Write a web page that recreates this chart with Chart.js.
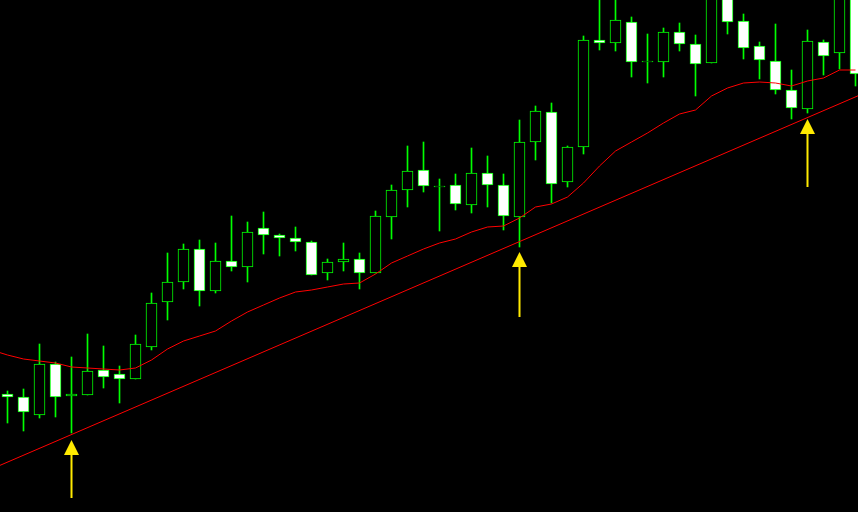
<!DOCTYPE html>
<html>
<head>
<meta charset="utf-8">
<title>Candles</title>
<script src="https://cdn.jsdelivr.net/npm/chart.js@4.4.1/dist/chart.umd.min.js"></script>
<style>
  html, body { margin: 0; padding: 0; background: #000; }
  #wrap { width: 858px; height: 512px; }
</style>
</head>
<body>
<div id="wrap"><canvas id="candles" width="858" height="512"></canvas></div>
<script>
  // price data, one entry per bar
  const open_prices  = [118,115, 97,148,116,117,142,138,133,165,210,230,263,221,251,245,284,277,274,270,
                        239,250,253,239,295,322,342,325,327,307,339,327,295,370,400,330,365,472,469,490,
                        450,450,480,468,449,525,491,466,451,422,403,470,459,525];
  const high_prices  = [121,123,168,150,155,178,166,146,177,219,259,268,272,269,296,290,300,278,285,271,
                        253,269,259,301,327,366,370,333,338,364,356,338,392,406,409,366,476,520,520,495,
                        478,484,489,477,540,535,498,470,488,442,482,472,535,535];
  const low_prices   = [ 89, 81, 94, 95, 79,117,124,109,133,162,192,223,206,219,241,230,258,256,261,237,
                        232,241,223,239,273,305,320,281,302,299,305,282,265,352,309,325,358,462,461,435,
                        429,435,461,416,449,478,453,433,418,393,399,437,443,426];
  const close_prices = [115,100,148,115,118,141,135,133,168,209,230,263,221,251,245,280,277,274,270,237,
                        250,253,239,296,322,341,326,326,308,339,327,296,370,401,328,365,472,469,492,450,
                        451,480,468,448,530,490,464,452,422,404,471,456,525,438];

  // moving average, starts one bar before the first candle
  const ma_start = -1;
  const ma_values = [162,157,153,151,149,145,144,143,142,144,152,163,171,176,181,191,200,207,214,220,
                     222,225,228,229,238,249,256,263,269,273,280,285,286,294,305,308,315,329,346,361,
                     370,379,389,398,402,416,424,429,430,429,426,431,434,442,442];

  // trend line anchors (bar index, price)
  const trend_idx = [-1, 54];
  const trend_val = [43, 422];

  // arrows under the touches
  const arrow_idx  = [4, 32, 50];
  const arrow_tip  = [72, 260, 393];
  const arrow_tail = [14, 195, 325];

  var body_data = open_prices.map(function(o, i){ return {x: i, y: [o, close_prices[i]]}; });
  var wick_data = low_prices.map(function(l, i){ return {x: i, y: [l, high_prices[i]]}; });
  var ma_data = ma_values.map(function(v, i){ return {x: i + ma_start, y: v}; });
  var trend_data = trend_idx.map(function(k, i){ return {x: k, y: trend_val[i]}; });

  var green = "#00ff00";

  const arrows = {
    id: "arrows",
    afterDatasetsDraw: function(chart){
      var ctx = chart.ctx;
      var xs = chart.scales.x, ys = chart.scales.y;
      ctx.save();
      ctx.fillStyle = "#ffea00";
      for (var i = 0; i < arrow_idx.length; i++) {
        var x = xs.getPixelForValue(arrow_idx[i]);
        var tip = ys.getPixelForValue(arrow_tip[i]);
        var tail = ys.getPixelForValue(arrow_tail[i]);
        ctx.fillRect(x - 1, tip + 14, 2, tail - tip - 14);
        ctx.beginPath();
        ctx.moveTo(x, tip);
        ctx.lineTo(x + 7.5, tip + 15);
        ctx.lineTo(x - 7.5, tip + 15);
        ctx.closePath();
        ctx.fill();
      }
      ctx.restore();
    }
  };

  //options
  var options = {
    responsive: false,
    animation: false,
    devicePixelRatio: 1,
    layout: { padding: 0 },
    plugins: { legend: { display: false }, tooltip: { enabled: false } },
    scales: {
      x: { type: "linear", display: false, offset: false, min: -0.46875, max: 53.15625 },
      y: { display: false, min: 0, max: 512 }
    }
  };

  new Chart(document.getElementById("candles"), {
    type: "bar",
    data: {
      datasets: [{
        label: "bodies",
        data: body_data,
        grouped: false,
        order: 1,
        barThickness: 11,
        borderWidth: 1,
        borderSkipped: false,
        borderColor: green,
        backgroundColor: function(c){
          var i = c.dataIndex;
          return close_prices[i] >= open_prices[i] ? "#000000" : "#ffffff";
        }
      }, {
        label: "wicks",
        data: wick_data,
        grouped: false,
        order: 2,
        barThickness: 1,
        borderWidth: 0,
        backgroundColor: green
      }, {
        type: "line",
        label: "MA",
        data: ma_data,
        order: 0,
        borderColor: "#ff0000",
        borderWidth: 1,
        pointRadius: 0,
        tension: 0
      }, {
        type: "line",
        label: "trend",
        data: trend_data,
        order: 0,
        borderColor: "#ff0000",
        borderWidth: 1,
        pointRadius: 0
      }]
    },
    options: options,
    plugins: [arrows]
  });
</script>
</body>
</html>
